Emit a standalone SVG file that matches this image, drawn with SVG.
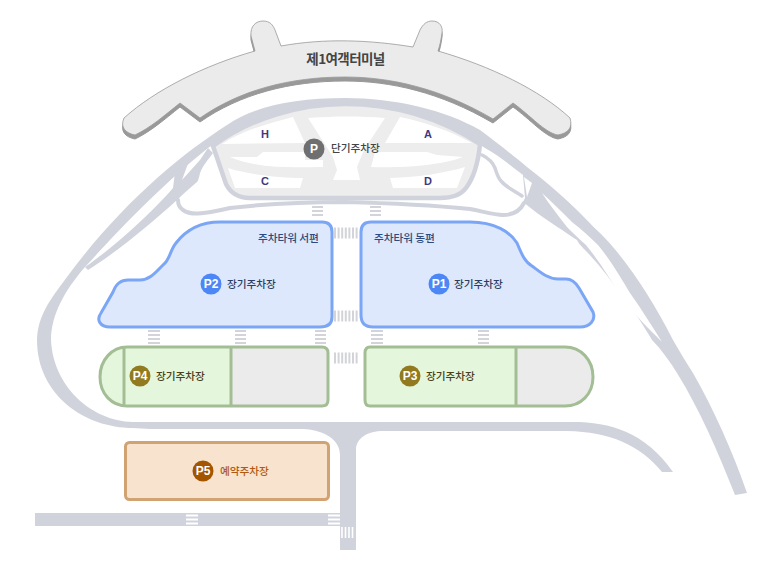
<svg xmlns="http://www.w3.org/2000/svg" width="767" height="575" viewBox="0 0 767 575">
<style>
text{font-family:"Noto Sans CJK KR","Noto Sans",sans-serif;font-weight:500}
.road{fill:#d0d3dc;stroke:none}
.rl{fill:none;stroke:#d0d3dc;stroke-linecap:round}
.lbl{font-size:10.700px;letter-spacing:-.1px}
.bd{font-family:"Liberation Sans",sans-serif;font-weight:700;font-size:12px;fill:#fff;text-anchor:middle}
.gate{font-family:"Liberation Sans",sans-serif;font-weight:700;font-size:11px;fill:#41397f;text-anchor:middle}
.xw{stroke:#d3d4d9;stroke-width:2;fill:none}
.xv{stroke:#d3d4d9;stroke-width:11;stroke-dasharray:2 1.600;fill:none}
</style>
<rect width="767" height="575" fill="#fff"/>
<g id="connectors">
<path class="road" d="M345,98C295,98 255,106 227,125C180,155 120,205 67,277C50,300 38,315 37,340L51,340C51,315 65,290 85,267C112,238 150,195 208,148C250,118 295,105 345,105Z"/>
<path class="road" d="M85,267C110,250 150,215 173,188L175,172L190,158L182,180L200,160L208,148L213,153C208,160 203,165 200,173C199,178 198,181 197,182C190,188 183,194 177,200C155,220 120,250 88,270Z"/>
<path class="road" d="M345,98C395,98 445,110 480,130C500,145 515,157 527,167C540,177 552,187 563,197C580,212 590,224 600,233C625,258 650,295 673,340C680,352 686,362 693,373C714,410 732,450 747,493L735,495C718,452 700,410 677,373C670,362 662,350 652,340C645,328 635,312 625,300C612,282 600,265 585,250C580,245 578,242 577,240C565,232 550,222 537,213L523,202L525,198L523,175C510,165 498,155 485,148C445,120 395,105 345,105Z"/>
<path fill="#fff" d="M542,193C552,202 562,212 572,222C582,230 590,237 598,245C612,262 622,280 630,293C642,310 652,326 662,342C650,330 635,315 623,300C612,282 600,262 586,245C578,238 572,232 567,227C560,218 554,210 548,202Z"/>
<path fill="#fff" d="M524,177L532,183L527,197Z"/>
<path class="rl" stroke-width="3.500" d="M482,155C488,158 493,163 495,168C497,174 498,178 501,181C507,188 515,191 522,196"/>
<path class="rl" stroke-width="4" d="M178,200C178,205 180,208 183,210C190,215 200,215 230,208C265,204 300,202 345,202C385,203 430,205 470,209C485,212 495,215 503,215C512,215 520,211 524,203"/>
<path class="road" d="M37,340C37,395 85,428 133,428L150,429H303C325,430 340,440 340,455V550H356V450C356,438 368,431 383,431H567C610,432 640,445 662,472H673C645,432 610,422 573,422H133C90,421 53,385 51,340Z"/>
<rect class="road" x="35" y="513" width="305" height="13"/>
<path style="stroke:#fff;stroke-width:2;fill:none" d="M186,515.500H198M186,519.500H198M186,523.500H198M328,515.500H340M328,519.500H340M328,523.500H340"/>
<path style="stroke:#fff;stroke-width:1.600;fill:none" d="M342,527V538M345.500,527V538M349,527V538M352.500,527V538"/>
<path class="xw" d="M312,207H323M312,211H323M312,215H323M370,207H381M370,211H381M370,215H381"/>
<path class="xw" d="M148,331H160M148,335H160M148,339H160M148,343H160M235,331H246M235,335H246M235,339H246M235,343H246M315,331H326M315,335H326M315,339H326M315,343H326M371,331H383M371,335H383M371,339H383M371,343H383M478,331H489M478,335H489M478,339H489M478,343H489"/>
<path class="xv" d="M334,233H358M334,316H358M334,358H358"/>
</g>
<g id="terminal">
<path transform="translate(0,4)" fill="#999" stroke="#999" d="M124,118C155,90 205,65 255,51L251,36C250,26 256,21 263,21C270,21 273,25 275,30L281,46C325,38 370,40 413,47L420,30C423,24 427,21 432,21C440,21 443,27 442,33C441,40 440,45 438,51C490,66 540,90 570,118C573,128 568,133 558,135C545,133 530,115 513,103L493,119C440,88 390,77 345,77C290,77 240,90 200,118L180,103C165,115 150,128 135,135C125,133 120,127 124,118Z"/>
<path fill="#ebebeb" stroke="#999" stroke-width=".8" d="M124,118C155,90 205,65 255,51L251,36C250,26 256,21 263,21C270,21 273,25 275,30L281,46C325,38 370,40 413,47L420,30C423,24 427,21 432,21C440,21 443,27 442,33C441,40 440,45 438,51C490,66 540,90 570,118C573,128 568,133 558,135C545,133 530,115 513,103L493,119C440,88 390,77 345,77C290,77 240,90 200,118L180,103C165,115 150,128 135,135C125,133 120,127 124,118Z"/>
<text x="345.500" y="64" text-anchor="middle" font-size="13.500" fill="#444" letter-spacing="-.6" style="font-weight:700">제1여객터미널</text>
</g>
<g id="short-term">
<path fill="#ededed" stroke="#d0d3dc" stroke-width="4.500" d="M213,146C250,118 300,104 345,104C395,104 440,118 480,144C478,165 472,180 466,188C460,196 450,198 440,198H250C238,198 230,192 226,184Z"/>
<g fill="#fff">
<path d="M222,144C240,132 265,124 293,117L305,143Z"/>
<path d="M308,118C335,116 360,116 385,118L364,150L357,167L360,180H333L337,170L333,157Z"/>
<path d="M230,157H257L263,152H305V160L323,160V167C300,167 260,170 230,157Z"/>
<path d="M463,157L437,155L427,152H375L371,167C400,168 440,166 463,157Z"/>
<path d="M400,117C425,122 450,131 472,143H385Z"/>
<path d="M228,168C250,175 280,178 303,178L300,188H235Z"/>
<path d="M465,167C445,173 420,177 390,178L393,188H457Z"/>
</g>
<text class="gate" x="265" y="138">H</text><text class="gate" x="428" y="138">A</text>
<text class="gate" x="265" y="185">C</text><text class="gate" x="428" y="185">D</text>
<circle cx="314" cy="149" r="10.500" fill="#6f6f6f"/>
<text class="bd" x="314" y="153">P</text>
<text class="lbl" x="331" y="152" fill="#444">단기주차장</text>
</g>
<g id="p2">
<path fill="#dde8fc" stroke="#7ba6f6" stroke-width="3" d="M220,222H322Q332,222 332,232V317Q332,327 320,327H110C100,327 96,320 101,313L113,292C116,284 120,280 128,280H140C150,280 156,272 163,265C170,260 170,250 176,243C186,230 200,222 220,222Z"/>
<text class="lbl" x="258" y="242" fill="#2d4a7e">주차타워 서편</text>
<circle cx="211" cy="284" r="10.500" fill="#4d87f5"/><text class="bd" x="211" y="288">P2</text>
<text class="lbl" x="227" y="288" fill="#2d3f60">장기주차장</text>
</g>
<g id="p1">
<path fill="#dde8fc" stroke="#7ba6f6" stroke-width="3" d="M371,222H470C495,222 510,232 517,243C522,255 525,262 532,266C540,272 548,279 558,279H566C572,279 576,283 579,288L593,312C596,320 590,327 580,327H373Q361,327 361,315V232Q361,222 371,222Z"/>
<text class="lbl" x="374" y="242" fill="#2d4a7e">주차타워 동편</text>
<circle cx="439" cy="284" r="10.500" fill="#4d87f5"/><text class="bd" x="439" y="288">P1</text>
<text class="lbl" x="454" y="288" fill="#2d3f60">장기주차장</text>
</g>
<g id="p4">
<path fill="#e4f6dc" d="M230,347H127C112,347 100,360 100,377C100,394 112,406 127,406H230Z"/>
<path fill="#ebebeb" d="M231,347H322Q328,347 328,353V400Q328,406 322,406H231Z"/>
<path fill="none" stroke="#a3bd95" stroke-width="3" d="M127,347H322Q328,347 328,353V400Q328,406 322,406H127C112,406 100,394 100,377C100,360 112,347 127,347ZM124,347V406M231,347V406"/>
<circle cx="140" cy="376" r="10.500" fill="#927a1f"/><text class="bd" x="140" y="380">P4</text>
<text class="lbl" x="156" y="380" fill="#4a4020">장기주차장</text>
</g>
<g id="p3">
<path fill="#e4f6dc" d="M516,347H370Q365,347 365,353V400Q365,406 370,406H516Z"/>
<path fill="#ebebeb" d="M516,347H565C581,347 593,360 593,377C593,394 581,406 565,406H516Z"/>
<path fill="none" stroke="#a3bd95" stroke-width="3" d="M370,347H565C581,347 593,360 593,377C593,394 581,406 565,406H370Q365,406 365,400V353Q365,347 370,347ZM516,347V406"/>
<circle cx="410" cy="376" r="10.500" fill="#927a1f"/><text class="bd" x="410" y="380">P3</text>
<text class="lbl" x="426" y="380" fill="#4a4020">장기주차장</text>
</g>
<g id="p5">
<rect x="125.500" y="442.500" width="203" height="57" rx="4" fill="#f8e3cf" stroke="#d1a272" stroke-width="3"/>
<circle cx="203" cy="471" r="10.500" fill="#a45500"/><text class="bd" x="203" y="475">P5</text>
<text class="lbl" x="220" y="475" fill="#b05a10">예약주차장</text>
</g>
</svg>
